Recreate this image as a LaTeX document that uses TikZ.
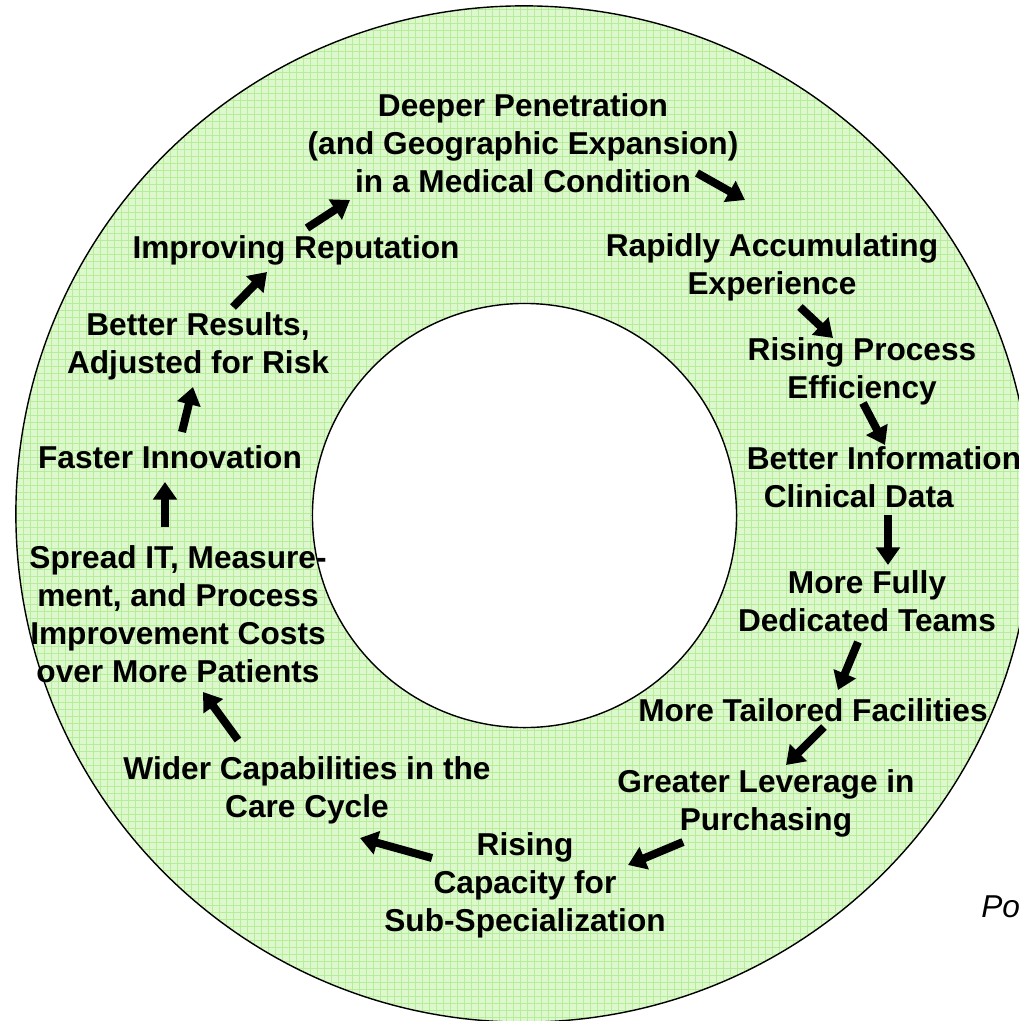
\documentclass[tikz,border=0pt]{standalone}
\usepackage{fontspec}
\setmainfont{Liberation Sans}
\usetikzlibrary{arrows.meta}
\definecolor{ringgreen}{RGB}{221,248,204}
\definecolor{gridgreen}{RGB}{182,237,155}

\begin{document}
\begin{tikzpicture}[x=0.025cm, y=-0.025cm,
  lbl/.style={font=\fontsize{22.5}{26.9}\selectfont\bfseries, align=center, inner sep=0pt},
  cyc/.style={black, line width=5.7pt, -{Triangle[length=12.5pt,width=16.5pt]}},
  gridln/.style={gridgreen, line width=0.7pt}]
\useasboundingbox (0,0) rectangle (1019,1021);
\fill[ringgreen] (524,514) circle[radius=12.7cm];
\begin{scope}
\clip (524,514) circle[radius=12.7cm];
\foreach \g in {2,9,...,1021} {
\draw[gridln] (\g,0)--(\g,1021);
\draw[gridln] (0,\g)--(1019,\g);
}
\end{scope}
\draw[black, line width=1pt] (524,514) circle[radius=12.7cm];
\draw[black, line width=1pt, fill=white] (524.5,515.5) circle[radius=5.3cm];
\node[lbl] (deeper) at (523,143) {Deeper Penetration\\(and Geographic Expansion)\\in a Medical Condition};
\node[lbl] (rapid) at (772,267) {Rapidly Accumulating\\Experience};
\node[lbl] (efficiency) at (862,371) {Rising Process\\Efficiency};
\node[lbl, align=left] (info) at (884,477) {Better Information\\\hspace*{12pt}Clinical Data};
\node[lbl] (teams) at (867,601) {More Fully\\Dedicated Teams};
\node[lbl] (facilities) at (813,710) {More Tailored Facilities};
\node[lbl] (leverage) at (766,803) {Greater Leverage in\\Purchasing};
\node[lbl] (capacity) at (525,885) {Rising\\Capacity for\\Sub-Specialization};
\node[lbl] (wider) at (307,790) {Wider Capabilities in the\\Care Cycle};
\node[lbl] (spread) at (178,614) {Spread IT, Measure-\\ment, and Process\\Improvement Costs\\over More Patients};
\node[lbl] (innovation) at (170,457) {Faster Innovation};
\node[lbl] (results) at (198,346) {Better Results,\\Adjusted for Risk};
\node[lbl] (reputation) at (296,250) {Improving Reputation};
\node[font=\fontsize{22.5}{26.9}\selectfont\itshape, anchor=west, inner sep=0pt] (po) at (981,907) {Po};
\foreach \tx/\ty/\hx/\hy [count=\i] in {697/173/745/200, 800/307/833/338, 863/403/885/445,
  888/515/888/565, 858/642/838/690, 824/727/786/765, 683/842/628/865, 432/858/360/838,
  238/740/203/692, 165/527/165/482, 182/432/193/387, 233/307/267/272, 307/228/350/200} {
\coordinate (tail\i) at (\tx,\ty);
\coordinate (head\i) at (\hx,\hy);
\draw[cyc] (tail\i) -- (head\i);
}
\end{tikzpicture}
\end{document}
